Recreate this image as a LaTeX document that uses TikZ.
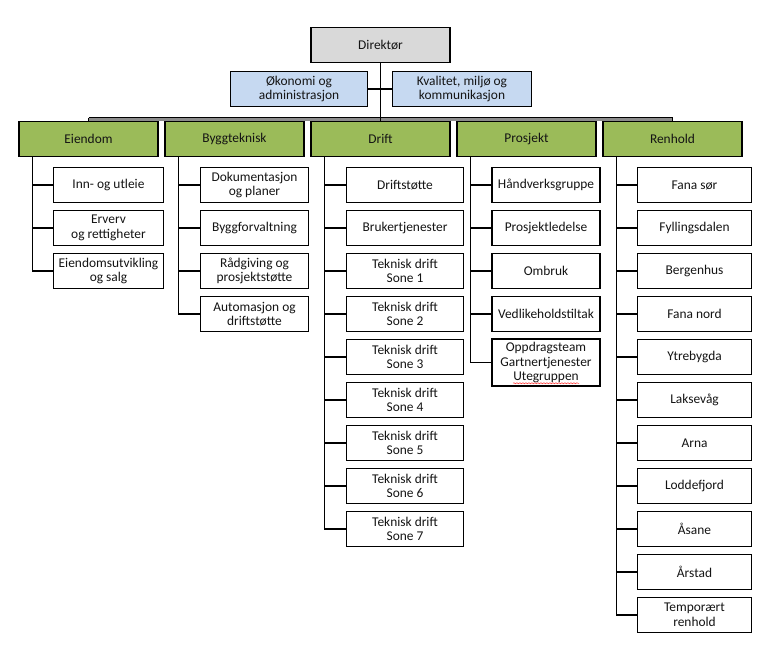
\documentclass[tikz,border=0pt]{standalone}
\usepackage{fontspec}
\setmainfont{Carlito}
\usetikzlibrary{calc,decorations.pathmorphing}

\definecolor{bossgray}{HTML}{D9D9D9}
\definecolor{staffblue}{HTML}{C6D9F1}
\definecolor{unitgreen}{HTML}{9BBB59}

\begin{document}
\begin{tikzpicture}
[
	              x = 1pt,
	              y = -1pt,
	           font = \fontsize{13.4}{14.6}\selectfont,
	     box/.style = { draw=black, line width=1.5pt, inner sep=1pt, align=center, minimum height=35pt, text=black!92 },
	    boss/.style = { box, fill=bossgray, minimum width=139pt },
	   staff/.style = { box, fill=staffblue },
	    unit/.style = { box, fill=unitgreen, minimum width=139pt },
	     sub/.style = { box, fill=white },
	    link/.style = { draw=black, line width=1.5pt },
	     bus/.style = { draw=black, line width=1.2pt }
]
	\useasboundingbox (0,0) rectangle (781,660);

	% top of the chart
	\node (direktor) at (380.5,45)  [boss]                        {Direktør};
	\node (okonomi)  at (299,89)    [staff, minimum width=137pt]  {Økonomi og\\administrasjon};
	\node (kvalitet) at (462,89)    [staff, minimum width=139pt]  {Kvalitet, miljø og\\kommunikasjon};

	% departments
	\node (eiendom)  at (88.5,139)  [unit] {Eiendom};
	\node (bygg)     at (234.5,139) [unit] {Byggteknisk};
	\node (drift)    at (380.5,139) [unit] {Drift};
	\node (prosjekt) at (526.5,139) [unit] {Prosjekt};
	\node (renhold)  at (672.5,139) [unit] {Renhold};

	\draw [line width=2.2pt, black!45] ([yshift=1.2pt]eiendom.north) -- ([yshift=1.2pt]renhold.north);
	\draw [bus] ([yshift=3pt]eiendom.north) -- ([yshift=3pt]renhold.north);
	\draw [bus] (eiendom.north) -- ([yshift=3pt]eiendom.north);
	\draw [bus] (renhold.north) -- ([yshift=3pt]renhold.north);
	\draw [link] (direktor.south) -- (drift.north);
	\draw [link] (okonomi.east) -- (kvalitet.west);

	% Eiendom
	\foreach \txt [count=\i] in {Inn- og utleie, Erverv\\og rettigheter, Eiendomsutvikling\\og salg}
		\node (eiendom\i) at (108.5,142+43*\i) [sub, minimum width=110pt] {\txt};
	\foreach \i in {1,...,3}
		\draw [link] ([xshift=14pt]eiendom.south west) |- (eiendom\i.west);

	% Byggteknisk
	\foreach \txt [count=\i] in {Dokumentasjon\\og planer, Byggforvaltning, Rådgiving og\\prosjektstøtte, Automasjon og\\driftstøtte}
		\node (bygg\i) at (254.5,142+43*\i) [sub, minimum width=108pt] {\txt};
	\foreach \i in {1,...,4}
		\draw [link] ([xshift=14pt]bygg.south west) |- (bygg\i.west);

	% Drift
	\foreach \txt [count=\i] in {Driftstøtte, Brukertjenester, Teknisk drift\\Sone 1, Teknisk drift\\Sone 2,
		Teknisk drift\\Sone 3, Teknisk drift\\Sone 4, Teknisk drift\\Sone 5, Teknisk drift\\Sone 6, Teknisk drift\\Sone 7}
		\node (drift\i) at (405,142+43*\i) [sub, minimum width=117pt] {\txt};
	\foreach \i in {1,...,9}
		\draw [link] ([xshift=14pt]drift.south west) |- (drift\i.west);

	% Prosjekt
	\foreach \txt [count=\i] in {Håndverksgruppe, Prosjektledelse, Ombruk, Vedlikeholdstiltak}
		\node (prosjekt\i) at (546,142+43*\i) [sub, minimum width=108pt] {\txt};
	\node (prosjekt5) at (546,362.5) [sub, minimum width=108pt, minimum height=47pt]
		{Oppdragsteam\\Gartnertjenester\\Utegruppen};
	\draw [red!80, line width=0.5pt, decorate, decoration={snake, amplitude=0.5pt, segment length=3pt}]
		([xshift=-33pt,yshift=3.5pt]prosjekt5.south) -- ([xshift=33pt,yshift=3.5pt]prosjekt5.south);
	\foreach \i in {1,...,5}
		\draw [link] ([xshift=14pt]prosjekt.south west) |- (prosjekt\i.west);

	% Renhold
	\foreach \txt [count=\i] in {Fana sør, Fyllingsdalen, Bergenhus, Fana nord, Ytrebygda, Laksevåg,
		Arna, Loddefjord, Åsane, Årstad, Temporært\\renhold}
		\node (renhold\i) at (694.5,142+43*\i) [sub, minimum width=114pt] {\txt};
	\foreach \i in {1,...,11}
		\draw [link] ([xshift=14pt]renhold.south west) |- (renhold\i.west);

\end{tikzpicture}
\end{document}
